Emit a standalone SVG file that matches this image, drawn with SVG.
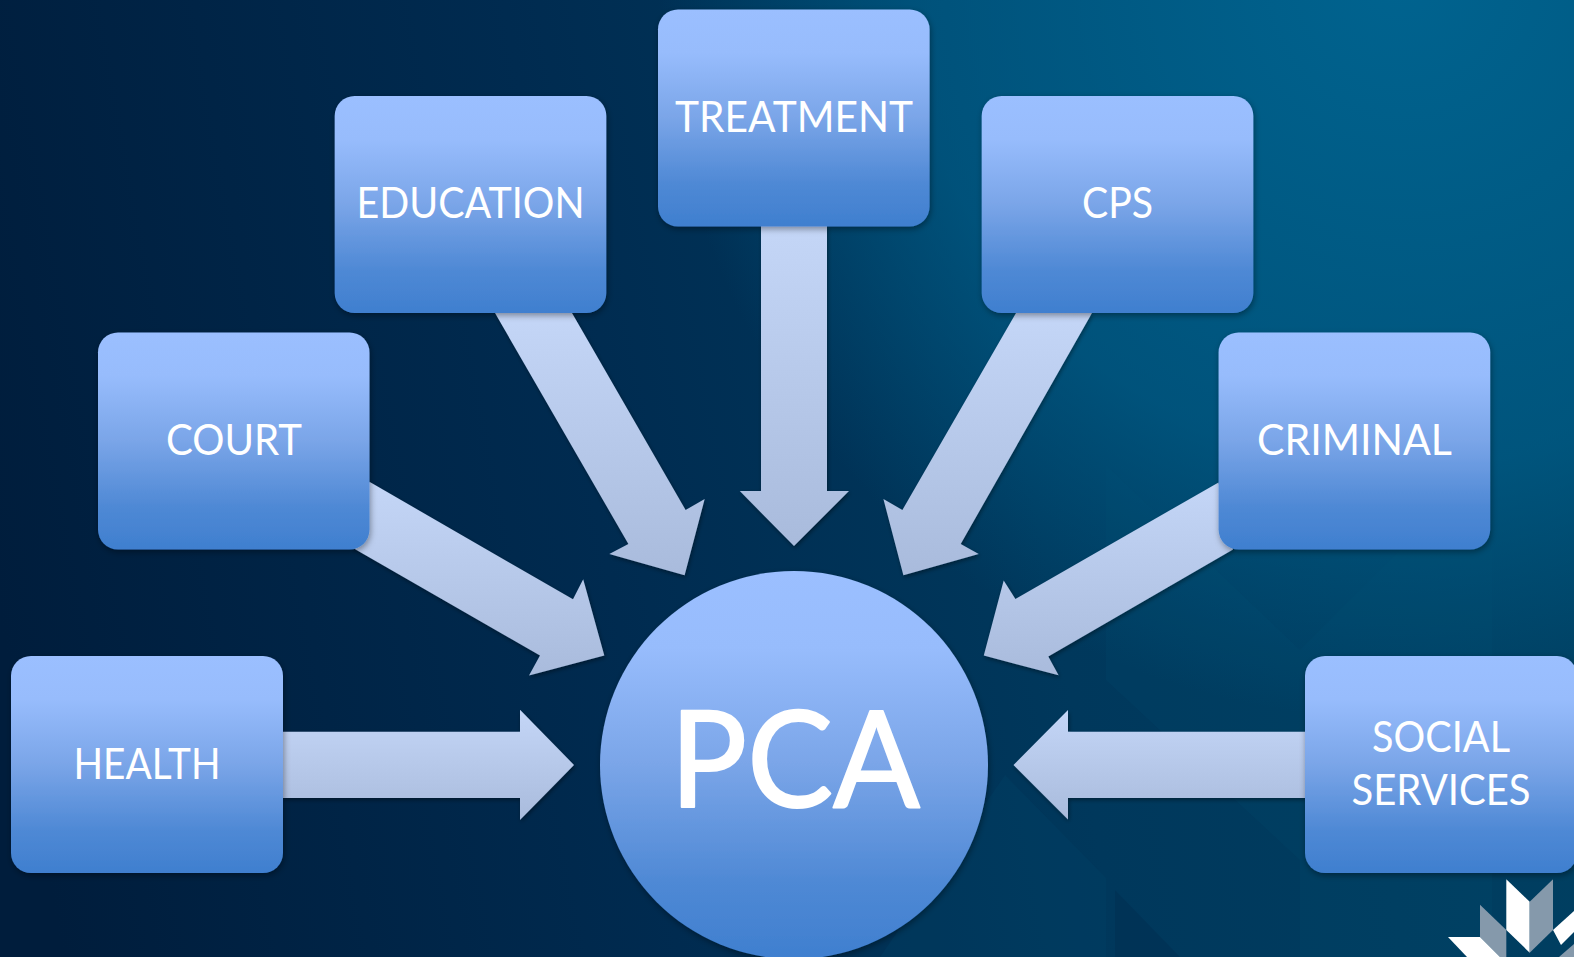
<svg xmlns="http://www.w3.org/2000/svg" width="1574" height="957" viewBox="0 0 1574 957">
<style>
.box{fill:url(#boxFill);filter:url(#sh)}
.arrow{fill:url(#arrowFill);filter:url(#shA)}
text{font-family:"Lato","Open Sans","Liberation Sans",sans-serif;fill:#fff;text-anchor:middle;font-size:42px}
.big{font-size:133px;stroke:#fff;stroke-width:2;stroke-linejoin:round}
</style>
<defs>
<linearGradient id="bg" gradientUnits="userSpaceOnUse" x1="0" y1="620" x2="1574" y2="330">
<stop offset="0" stop-color="#001d3c"/><stop offset="0.38" stop-color="#002b50"/><stop offset="0.65" stop-color="#00385c"/><stop offset="1" stop-color="#004062"/>
</linearGradient>
<radialGradient id="glow" gradientUnits="userSpaceOnUse" cx="1400" cy="-20" r="740">
<stop offset="0" stop-color="#00638f" stop-opacity="1"/><stop offset="0.66" stop-color="#00638f" stop-opacity="0.6"/><stop offset="1" stop-color="#00638f" stop-opacity="0"/>
</radialGradient>
<linearGradient id="boxFill" x1="0" y1="0" x2="0" y2="1">
<stop offset="0" stop-color="#9bbfff"/><stop offset="0.2" stop-color="#97bcfc"/><stop offset="0.5" stop-color="#7aa5e8"/><stop offset="0.8" stop-color="#4f89d5"/><stop offset="1" stop-color="#3f7fcf"/>
</linearGradient>
<linearGradient id="arrowFill" x1="0" y1="0" x2="0" y2="1">
<stop offset="0" stop-color="#c4d6f7"/><stop offset="1" stop-color="#a9bbdc"/>
</linearGradient>
<filter id="sh" x="-10%" y="-10%" width="120%" height="120%"><feDropShadow dx="1" dy="2.5" stdDeviation="3" flood-color="#000" flood-opacity="0.38"/></filter>
<filter id="shA" x="-10%" y="-10%" width="120%" height="120%"><feDropShadow dx="1" dy="2" stdDeviation="2" flood-color="#000" flood-opacity="0.4"/></filter>
</defs>
<rect width="1574" height="957" fill="url(#bg)"/>
<rect width="1574" height="957" fill="url(#glow)"/>
<g id="backdrop">
<polygon fill="#00527a" opacity="0.14" points="1106,465 1300,650 1400,550 1492,550 1492,957 1300,957 1300,860 1106,680"/>
<polygon fill="#004a6e" opacity="0.22" points="1005,775 1106,878 1106,957 880,957"/>
<polygon fill="#00284a" opacity="0.3" points="1115,890 1180,957 1115,957"/>
</g>
<g id="logo">
<polygon fill="#fff" points="1506.3,879.3 1529.7,901.7 1529.7,952.7 1506.3,930"/>
<polygon fill="#8599ab" points="1553,879.3 1529.7,901.7 1529.7,952.7 1553,930"/>
<polygon fill="#8599ab" points="1480,904.7 1506.3,930 1506.3,957 1500,957 1480,937"/>
<polygon fill="#fff" points="1448,937 1480,937 1500,957 1467,957"/>
<polygon fill="#fff" points="1553,930 1574,911 1574,932 1561,945"/>
<polygon fill="#8599ab" points="1559,957 1574,944 1574,957"/>
</g>
<g id="connectors">
<polygon class="arrow" points="283,731.8 520,731.8 520,709.7 574,765 520,820 520,798 283,798"/>
<polygon class="arrow" points="369.4,481.8 573,599.3 583.2,579.2 604.3,655.5 529,675.6 540,655.5 353,548"/>
<polygon class="arrow" points="495,313 628.4,544 609.3,554 684.6,575.2 704.7,498.9 685.6,510 572,313"/>
<polygon class="arrow" points="761,226 827,226 827,491 849,491 794,546 739.8,491 761,491"/>
<polygon class="arrow" points="1016,313 902.4,510 883.4,499 903.4,575.2 978.7,554 960.7,544 1092,313"/>
<polygon class="arrow" points="1218.5,482.4 1015.4,599 1003.7,580.5 983.8,655.5 1058.6,675.3 1048.3,656.5 1233,549.6"/>
<polygon class="arrow" points="1305,731.8 1068,731.8 1068,710 1013.5,765 1068,819.5 1068,798 1305,798"/>
</g>
<g id="health"><rect class="box" x="11" y="656" width="272" height="217" rx="20"/><text x="147" y="779" textLength="147" lengthAdjust="spacingAndGlyphs">HEALTH</text></g>
<g id="court"><rect class="box" x="98" y="332.5" width="271.5" height="217" rx="20"/><text x="234" y="455" textLength="136" lengthAdjust="spacingAndGlyphs">COURT</text></g>
<g id="education"><rect class="box" x="334.7" y="96" width="271.6" height="217" rx="20"/><text x="470.5" y="218" textLength="228" lengthAdjust="spacingAndGlyphs">EDUCATION</text></g>
<g id="treatment"><rect class="box" x="658" y="9.5" width="271.6" height="217" rx="20"/><text x="794" y="132" textLength="238" lengthAdjust="spacingAndGlyphs">TREATMENT</text></g>
<g id="cps"><rect class="box" x="981.7" y="96" width="271.6" height="217" rx="20"/><text x="1117.5" y="218" textLength="71" lengthAdjust="spacingAndGlyphs">CPS</text></g>
<g id="criminal"><rect class="box" x="1218.6" y="332.5" width="271.6" height="217" rx="20"/><text x="1354.5" y="455" textLength="195" lengthAdjust="spacingAndGlyphs">CRIMINAL</text></g>
<g id="social"><rect class="box" x="1305" y="656" width="272" height="217" rx="20"/><text x="1441" y="752" textLength="138" lengthAdjust="spacingAndGlyphs">SOCIAL</text><text x="1441" y="805" textLength="179" lengthAdjust="spacingAndGlyphs">SERVICES</text></g>
<g id="pca"><circle class="box" cx="794" cy="765" r="194"/><text class="big" x="795" y="807" textLength="250" lengthAdjust="spacingAndGlyphs">PCA</text></g>
</svg>
